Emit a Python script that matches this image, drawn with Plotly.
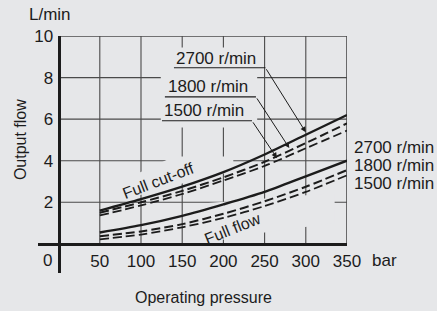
import plotly.graph_objects as go

pressure = [50, 100, 150, 200, 250, 300, 350]
cutoff_2700 = [1.6, 2.15, 2.75, 3.45, 4.3, 5.25, 6.2]
cutoff_1800 = [1.5, 2.0, 2.55, 3.2, 3.95, 4.85, 5.8]
cutoff_1500 = [1.37, 1.85, 2.4, 3.05, 3.75, 4.6, 5.45]
flow_2700 = [0.55, 0.9, 1.35, 1.9, 2.5, 3.25, 4.0]
flow_1800 = [0.37, 0.6, 0.95, 1.45, 2.05, 2.75, 3.55]
flow_1500 = [0.22, 0.45, 0.8, 1.25, 1.82, 2.5, 3.3]

x_ticks = [50, 100, 150, 200, 250, 300, 350]
y_ticks = [2, 4, 6, 8, 10]
speed_labels = ["2700 r/min", "1800 r/min", "1500 r/min"]

BG = "#e6e7e9"
INK = "#1c1c1c"
GRID = "#4a4a4a"
FONT = "Liberation Sans, Arial, sans-serif"

XMIN, XMAX = -25, 350
YMIN, YMAX = -1.4, 10

fig = go.Figure()

series = [
    (cutoff_2700, "solid", 2.4),
    (cutoff_1800, "9px,4px", 2.0),
    (cutoff_1500, "9px,4px", 1.8),
    (flow_2700, "solid", 2.4),
    (flow_1800, "9px,4px", 2.0),
    (flow_1500, "9px,4px", 1.8),
]
for ys, dash, w in series:
    fig.add_trace(go.Scatter(x=pressure, y=ys, mode="lines",
                             line=dict(color=INK, width=w, dash=dash, shape="spline", smoothing=0.8),
                             showlegend=False, hoverinfo="skip"))

shapes = []
for xv in x_ticks:
    shapes.append(dict(type="line", xref="x", yref="y", x0=xv, x1=xv, y0=0, y1=YMAX,
                       line=dict(color=GRID, width=1.6 if xv == XMAX else 1.1), layer="below"))
for yv in y_ticks:
    shapes.append(dict(type="line", xref="x", yref="y", x0=0, x1=XMAX, y0=yv, y1=yv,
                       line=dict(color=GRID, width=1.6 if yv == YMAX else 1.1), layer="below"))
shapes.append(dict(type="rect", xref="x", yref="y", x0=124, x1=241, y0=5.6, y1=9.45,
                   fillcolor=BG, line=dict(width=0), layer="below"))
shapes.append(dict(type="path", xref="x", yref="y",
                   path="M 178,1.95 L 335,2.45 L 335,1.0 L 250,0.55 L 178,0.05 Z",
                   fillcolor=BG, line=dict(width=0), layer="below"))
shapes.append(dict(type="path", xref="x", yref="y",
                   path="M 75,3.0 L 140,4.2 L 212,4.2 L 212,3.5 L 150,2.9 L 85,2.2 Z",
                   fillcolor=BG, line=dict(width=0), layer="below"))

leaders = [
    (0, 191.5, 8.94, 140, 251, 8.47, 300, cutoff_2700),
    (1, 181.8, 7.56, 129, 239.5, 7.07, 280, cutoff_1800),
    (2, 177.0, 6.43, 125.5, 234.7, 5.92, 265, cutoff_1500),
]
annotations = []
for idx, tx, ty, ux0, ux1, uy, tgx, ser in leaders:
    shapes.append(dict(type="line", xref="x", yref="y", x0=ux0, x1=ux1, y0=uy, y1=uy,
                       line=dict(color=INK, width=1.1)))
    for i in range(len(pressure) - 1):
        if pressure[i] <= tgx <= pressure[i + 1]:
            f = (tgx - pressure[i]) / (pressure[i + 1] - pressure[i])
            tgy = ser[i] + f * (ser[i + 1] - ser[i])
            break
    annotations.append(dict(x=tgx, y=tgy + 0.12, xref="x", yref="y", ax=ux1, ay=uy,
                            axref="x", ayref="y", text="", showarrow=True,
                            arrowhead=2, arrowsize=1.1, arrowwidth=1.0, arrowcolor=INK,
                            standoff=0, startstandoff=0))
    annotations.append(dict(x=tx, y=ty, xref="x", yref="y", text=speed_labels[idx],
                            xanchor="center", yanchor="middle",
                            showarrow=False, font=dict(size=17, color=INK, family=FONT)))

for lab, yv in zip(speed_labels, [4.65, 3.78, 2.92]):
    annotations.append(dict(x=1.016, y=yv, xref="paper", yref="y", text=lab,
                            xanchor="left", yanchor="middle",
                            showarrow=False, font=dict(size=17, color=INK, family=FONT)))

def centered(**kw):
    d = dict(showarrow=False, xanchor="center", yanchor="middle")
    d.update(kw)
    return d

annotations += [
    centered(x=121.7, y=3.03, xref="x", yref="y", text="Full cut-off", textangle=-21,
             font=dict(size=16, color=INK, family=FONT)),
    centered(x=211.6, y=0.75, xref="x", yref="y", text="Full flow", textangle=-22,
             font=dict(size=16, color=INK, family=FONT)),
    centered(x=-12.9, y=-0.78, xref="x", yref="y", text="0",
             font=dict(size=17, color=INK, family=FONT)),
    centered(x=1.121, y=-0.78, xref="paper", yref="y", text="bar",
             font=dict(size=17, color=INK, family=FONT)),
    centered(x=0.039, y=1.089, xref="paper", yref="paper", text="L/min",
             font=dict(size=17, color=INK, family=FONT)),
    centered(x=-0.058, y=0.561, xref="paper", yref="paper", text="Output flow", textangle=-90,
             font=dict(size=16, color=INK, family=FONT)),
    centered(x=0.5356, y=-0.105, xref="paper", yref="paper", text="Operating pressure",
             font=dict(size=16, color=INK, family=FONT)),
]

fig.update_layout(
    width=437, height=311,
    margin=dict(l=38, r=90, t=36, b=38, autoexpand=False),
    paper_bgcolor=BG, plot_bgcolor=BG,
    shapes=shapes, annotations=annotations,
    font=dict(family=FONT, size=17, color=INK),
    xaxis=dict(range=[XMIN, XMAX], tickvals=x_ticks, ticktext=[str(v) for v in x_ticks],
               showgrid=False, zeroline=False, showline=True, linewidth=3, linecolor=INK,
               anchor="free", position=(0 - YMIN) / (YMAX - YMIN), automargin=False,
               ticks="outside", ticklen=1, tickcolor=BG, tickfont=dict(size=17)),
    yaxis=dict(range=[YMIN, YMAX], tickvals=y_ticks, ticktext=[str(v) for v in y_ticks],
               showgrid=False, zeroline=False, showline=True, linewidth=3, linecolor=INK,
               anchor="free", position=(0 - XMIN) / (XMAX - XMIN), automargin=False,
               ticks="outside", ticklen=1, tickcolor=BG, tickfont=dict(size=17)),
)

fig.write_html("out.html", config={"displayModeBar": False},
               post_script="document.body.style.margin='0';document.body.style.background='%s';" % BG)
